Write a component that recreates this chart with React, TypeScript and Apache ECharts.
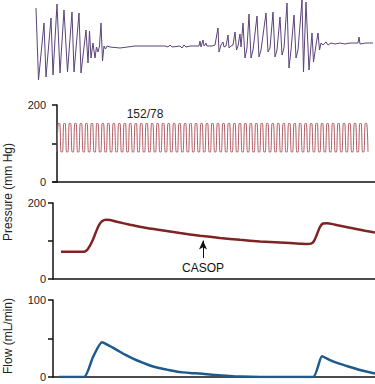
import React, { useEffect, useRef } from 'react';
import * as echarts from 'echarts';

// ECG trace: [time, amplitude]
const ecgTrace: [number, number][] = [
  [36, 38], [38.5, -34], [44, 23], [46, -31], [51, 28], [53, -29], [57, 42], [60, -27],
  [64, 36], [67.5, -26], [72, 34], [74, -26], [79, 33], [81, -27], [86, 16], [88, -17],
  [89.5, 15], [91, -12], [93, 3], [95, -12], [96.5, -1], [98, -6], [99.5, 0], [101, 23],
  [102.5, -15], [104, 0], [105.5, -3], [107, 0],
  [110, -1], [120, -2], [135, 0], [150, 0], [165, 0], [168, -1], [170, 1], [172, -1],
  [180, 0], [182, -2], [184, 1], [186, -1], [190, 0], [199, 0], [200, 5], [201, -1],
  [203, 6], [204, 0], [205, 1], [206, 3], [207, 0], [212, 0], [215, 1],
  [218, 18], [219, -6], [221, 1], [223, 4], [224, -1], [226, 0], [228, 11], [229, -2],
  [231, 0], [233, 1], [235, 14], [236.5, -4], [238, 0], [240, 12], [241, -1], [243, 23],
  [245, -12], [247, -2], [249, 32], [251, -12], [253, -4], [257, 30], [259, -11], [261, -4],
  [266, 33], [268, -6], [270, -2], [273, 34], [275, -11], [277, -4], [280, 29], [282, -9],
  [284, -2], [287, 43], [289, -22], [291, -4], [294, 31], [296, -12], [298, -4], [302, 46],
  [303.5, -26], [306, 44], [309, -24], [312, 13], [313.5, -16], [316, 1], [318, 13],
  [319.5, -4], [321, 3], [323, 1], [326, 4], [328, 1], [331, 3], [335, 2], [340, 3],
  [345, 2], [350, 3], [358, 3], [359, 9], [360, 2], [366, 3], [373, 3],
];

// Arterial pressure beats: [systolic, diastolic]
const beats: [number, number][] = [
  [152, 78], [152, 78], [152, 78], [152, 78], [152, 78], [152, 78], [152, 78], [152, 78],
  [152, 78], [152, 78], [152, 78], [152, 78], [152, 78], [152, 78], [152, 78], [152, 78],
  [152, 78], [152, 78], [152, 78], [152, 78], [152, 78], [152, 78], [152, 78], [152, 78],
  [152, 78], [152, 78], [152, 78], [152, 78], [152, 78], [152, 78], [152, 78], [152, 78],
  [152, 78], [152, 78], [152, 78], [152, 78], [152, 78], [152, 78], [152, 78], [152, 78],
  [152, 78], [152, 78], [152, 78], [152, 78], [152, 78], [152, 78], [152, 78], [152, 78],
  [152, 78], [152, 78], [152, 78], [152, 78], [152, 78], [152, 78], [152, 78], [152, 78],
  [152, 78],
];

// CASOP pressure
const casopTime = [61, 84, 87, 90, 93, 96, 99, 102, 106, 110, 118, 130, 145, 160, 180, 200, 220, 240, 260, 280, 300, 307, 311, 314, 317, 320, 323, 327, 335, 350, 365, 375];
const casopValue = [72, 72, 76, 88, 104, 124, 142, 152, 156, 155, 150, 143, 135, 129, 121, 114, 108, 103, 99, 96, 93, 92, 93, 100, 118, 137, 146, 147, 143, 135, 127, 122];

// Flow
const flowTime = [59, 84, 93, 102, 110, 117, 125, 133, 142, 150, 158, 167, 175, 183, 192, 200, 215, 230, 240, 260, 313, 322, 330, 340, 350, 360, 375];
const flowValue = [0, 0, 26, 45, 40, 35, 29, 24, 19, 15, 12, 9.6, 7.5, 6, 5, 4.4, 2.5, 1.3, 0.5, 0, 0, 27, 22, 17, 13, 9, 4.4];

const pressureTicks = ['0', '200'];
const flowTicks = ['0', '100'];

const FONT = 'Liberation Sans, Arial, Helvetica, sans-serif';

export default function App() {
  const ref = useRef<HTMLDivElement>(null);
  useEffect(() => {
    if (!ref.current) return;
    const chart = echarts.init(ref.current, undefined, { renderer: 'svg' });

    const squareData: [number, number][] = [];
    beats.forEach(([sys, dia]) => {
      squareData.push([squareData.length, dia]);
      squareData.push([squareData.length, sys]);
      squareData.push([squareData.length, sys]);
      squareData.push([squareData.length, dia]);
    });
    const casopData = casopTime.map((t, i) => [t, casopValue[i]]);
    const flowData = flowTime.map((t, i) => [t, flowValue[i]]);

    const axisLine = { show: true, lineStyle: { color: '#111', width: 1.5 } };
    const yCommon = (max: number, interval: number, labels: string[]) => ({
      type: 'value' as const,
      min: 0,
      max,
      interval,
      axisLine,
      axisTick: { show: true, length: 5, inside: false, lineStyle: { color: '#111', width: 1.5 } },
      axisLabel: {
        show: true,
        margin: 7,
        color: '#222',
        fontSize: 11,
        fontFamily: FONT,
        formatter: (v: number) => (labels.includes(String(v)) ? String(v) : ''),
      },
      splitLine: { show: false },
    });
    const xHidden = (min: number, max: number, gridIndex: number, showLine: boolean) => ({
      type: 'value' as const,
      gridIndex,
      min,
      max,
      axisLine: showLine ? axisLine : { show: false },
      axisTick: { show: false },
      axisLabel: { show: false },
      splitLine: { show: false },
    });

    chart.setOption({
      animation: false,
      grid: [
        { left: 0, right: 0, top: 0, height: 86, outerBoundsMode: 'none' },
        { left: 53, right: 0, top: 105, height: 77, outerBoundsMode: 'none' },
        { left: 53, right: 0, top: 203, height: 76, outerBoundsMode: 'none' },
        { left: 53, right: 0, top: 300, height: 77, outerBoundsMode: 'none' },
      ],
      xAxis: [
        xHidden(0, 375, 0, false),
        xHidden(-2.9, 232.1, 1, true),
        xHidden(53, 375, 2, true),
        xHidden(53, 375, 3, true),
      ],
      yAxis: [
        { type: 'value', gridIndex: 0, min: -40, max: 46, show: false },
        { ...yCommon(200, 100, pressureTicks), gridIndex: 1 },
        { ...yCommon(200, 100, pressureTicks), gridIndex: 2 },
        { ...yCommon(100, 50, flowTicks), gridIndex: 3 },
      ],
      series: [
        {
          type: 'line',
          xAxisIndex: 0,
          yAxisIndex: 0,
          data: ecgTrace,
          showSymbol: false,
          clip: false,
          lineStyle: { color: '#5b4479', width: 1 },
        },
        {
          type: 'line',
          xAxisIndex: 1,
          yAxisIndex: 1,
          data: squareData,
          showSymbol: false,
          smooth: 0.3,
          lineStyle: { color: '#b0585f', width: 1 },
        },
        {
          type: 'line',
          xAxisIndex: 2,
          yAxisIndex: 2,
          data: casopData,
          showSymbol: false,
          smooth: 0.3,
          lineStyle: { color: '#7e2424', width: 2.5 },
          markLine: {
            silent: true,
            symbol: ['none', 'arrow'],
            symbolSize: [6, 9],
            lineStyle: { color: '#111', width: 1, type: 'solid' },
            label: {
              show: true,
              position: 'start',
              formatter: 'CASOP',
              color: '#111',
              fontSize: 12,
              fontFamily: FONT,
              distance: 4,
            },
            data: [[{ coord: [203, 55] }, { coord: [203, 101] }]],
          },
        },
        {
          type: 'line',
          xAxisIndex: 3,
          yAxisIndex: 3,
          data: flowData,
          showSymbol: false,
          smooth: 0.2,
          lineStyle: { color: '#1d5a8e', width: 2.5 },
        },
      ],
      graphic: [
        {
          type: 'text',
          x: 145,
          y: 114,
          style: { text: '152/78', fill: '#222', font: `12px ${FONT}`, align: 'center', verticalAlign: 'middle' },
        },
        {
          type: 'text',
          x: 8,
          y: 192,
          rotation: Math.PI / 2,
          style: { text: 'Pressure (mm Hg)', fill: '#222', font: `12px ${FONT}`, align: 'center', verticalAlign: 'middle' },
        },
        {
          type: 'text',
          x: 8,
          y: 336,
          rotation: Math.PI / 2,
          style: { text: 'Flow (mL/min)', fill: '#222', font: `12px ${FONT}`, align: 'center', verticalAlign: 'middle' },
        },
      ],
    });
    return () => chart.dispose();
  }, []);
  return (
    <div
      ref={ref}
      style={{ position: 'fixed', left: 0, top: 0, width: 375, height: 384, background: '#fff' }}
    />
  );
}
